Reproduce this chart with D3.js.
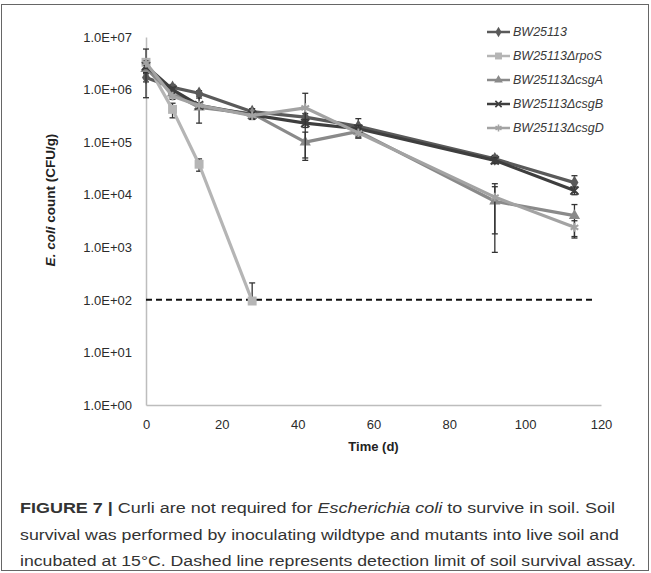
<!DOCTYPE html>
<html>
<head>
<meta charset="utf-8">
<script src="https://cdn.jsdelivr.net/npm/d3@7"></script>
<style>
	body { margin: 0; background: #fff; }
	text { font-family: 'Liberation Sans', Arial, sans-serif; }
</style>
</head>
<body>
<div class="canvas"></div>
<script>
// data
const days = [0, 7, 14, 28, 42, 56, 92, 113];
const seriesNames = ['BW25113', 'BW25113\u0394rpoS', 'BW25113\u0394csgA', 'BW25113\u0394csgB', 'BW25113\u0394csgD'];
const bw25113 = [1.7e6, 1.1e6, 8.5e5, 3.8e5, 3.0e5, 2.0e5, 4.8e4, 1.7e4];
const rpoS = [3.3e6, 4.2e5, 3.8e4, 95];
const csgA = [2.5e6, 8.5e5, 4.6e5, 3.5e5, 1.0e5, 1.6e5, 7.5e3, 4.0e3];
const csgB = [2.8e6, 1.0e6, 5.0e5, 3.3e5, 2.3e5, 1.8e5, 4.5e4, 1.2e4];
const csgD = [3.2e6, 7.5e5, 5.0e5, 3.2e5, 4.5e5, 1.5e5, 9.0e3, 2.4e3];
// standard deviations
const bw25113Sd = [3e5, 1.5e5, 1e5, 5e4, 5e4, 8e4, 8e3, 6e3];
const rpoSSd = [2.6e6, 1.3e5, 1e4, 115];
const csgASd = [4e5, 1e5, 2.3e5, 8e4, 5.5e4, 3e4, 6.7e3, 2.5e3];
const csgBSd = [3e5, 1e5, 5e4, 4e4, 4e4, 3e4, 6e3, 2e3];
const csgDSd = [3e5, 1e5, 5e4, 4e4, 4e5, 3e4, 7.2e3, 8e2];
const yTicks = [1, 10, 100, 1e3, 1e4, 1e5, 1e6, 1e7];
const xTicks = [0, 20, 40, 60, 80, 100, 120];
const detectionLimit = 100;

const colors = ['#5a5a5a', '#b5b5b5', '#8a8a8a', '#3e3e3e', '#a3a3a3'];
const symbols = [d3.symbolDiamond, d3.symbolSquare, d3.symbolTriangle, d3.symbolX, d3.symbolAsterisk];
const symbolSizes = [55, 80, 55, 45, 55];
const strokeSymbols = [false, false, false, true, true];

const series = [bw25113, rpoS, csgA, csgB, csgD].map((vals, i) => ({
	name: seriesNames[i],
	sd: [bw25113Sd, rpoSSd, csgASd, csgBSd, csgDSd][i],
	points: vals.map((v, j) => ({ day: days[j], value: v }))
}));

const svg = d3.select('.canvas')
	.append('svg')
	.attr('width', 651)
	.attr('height', 573);

// frame
svg.append('rect')
	.attr('x', 1.5)
	.attr('y', 4.5)
	.attr('width', 647)
	.attr('height', 566)
	.attr('fill', 'none')
	.attr('stroke', '#666')
	.attr('stroke-width', 1);

// scales
const x = d3.scaleLinear().domain([0, 120]).range([146, 601]);
const y = d3.scaleLog().domain([1, 1e7]).range([405, 37]);

// axes
const yAxis = d3.axisLeft(y)
	.tickValues(yTicks)
	.tickSize(0)
	.tickPadding(14)
	.tickFormat(d => d3.format('.1e')(d).toUpperCase().replace(/E([+-])(\d)$/, 'E$10$2'));
const xAxis = d3.axisBottom(x)
	.tickValues(xTicks)
	.tickSize(0)
	.tickPadding(15);

const yAxisGroup = svg.append('g')
	.attr('transform', `translate(${x(0)},0)`)
	.call(yAxis);
const xAxisGroup = svg.append('g')
	.attr('transform', `translate(0,${y(1)})`)
	.call(xAxis);

[xAxisGroup, yAxisGroup].forEach(g => {
	g.select('.domain').attr('stroke', '#bdbdbd').attr('stroke-width', 1.5);
	g.selectAll('text')
		.attr('fill', '#2b2b2b')
		.attr('font-size', '13px')
		.attr('font-family', "'Liberation Sans', Arial, sans-serif");
});

// axis titles
svg.append('text')
	.attr('x', x(60))
	.attr('y', 451)
	.attr('text-anchor', 'middle')
	.attr('font-size', '13px')
	.attr('font-weight', 'bold')
	.attr('fill', '#222')
	.text('Time (d)');

const yTitle = svg.append('text')
	.attr('transform', 'translate(55,200) rotate(-90)')
	.attr('text-anchor', 'middle')
	.attr('font-size', '13.5px')
	.attr('font-weight', 'bold')
	.attr('fill', '#222');
yTitle.append('tspan').attr('font-style', 'italic').text('E. coli');
yTitle.append('tspan').text(' count (CFU/g)');

// detection limit
svg.append('line')
	.attr('x1', x(0))
	.attr('x2', x(118))
	.attr('y1', y(detectionLimit))
	.attr('y2', y(detectionLimit))
	.attr('stroke', '#111')
	.attr('stroke-width', 2)
	.attr('stroke-dasharray', '6,4');

const line = d3.line()
	.x(d => x(d.day))
	.y(d => y(d.value));

const plot = svg.append('g');

series.forEach((s, i) => {
	const g = plot.append('g');

	// error bars
	s.points.forEach((p, j) => {
		const sd = s.sd[j];
		const hi = p.value + sd;
		const lo = p.value - sd;
		const eb = g.append('g').attr('stroke', '#333').attr('stroke-width', 1.3);
		eb.append('line')
			.attr('x1', x(p.day)).attr('x2', x(p.day))
			.attr('y1', y(hi))
			.attr('y2', lo > 1 ? y(lo) : y(p.value));
		eb.append('line')
			.attr('x1', x(p.day) - 3).attr('x2', x(p.day) + 3)
			.attr('y1', y(hi)).attr('y2', y(hi));
		if (lo > 1) {
			eb.append('line')
				.attr('x1', x(p.day) - 3).attr('x2', x(p.day) + 3)
				.attr('y1', y(lo)).attr('y2', y(lo));
		}
	});

	g.append('path')
		.datum(s.points)
		.attr('d', line)
		.attr('fill', 'none')
		.attr('stroke', colors[i])
		.attr('stroke-width', 3.2)
		.attr('stroke-linejoin', 'round');

	g.selectAll('path.marker')
		.data(s.points)
		.enter()
		.append('path')
		.attr('class', 'marker')
		.attr('transform', d => `translate(${x(d.day)},${y(d.value)})`)
		.attr('d', d3.symbol().type(symbols[i]).size(symbolSizes[i]))
		.attr('fill', strokeSymbols[i] ? 'none' : colors[i])
		.attr('stroke', colors[i])
		.attr('stroke-width', strokeSymbols[i] ? 2 : 0);
});

// legend
const legend = svg.append('g');
seriesNames.forEach((name, i) => {
	const ly = 32 + i * 24;
	legend.append('line')
		.attr('x1', 487).attr('x2', 510)
		.attr('y1', ly).attr('y2', ly)
		.attr('stroke', colors[i])
		.attr('stroke-width', 2.5);
	legend.append('path')
		.attr('transform', `translate(498.5,${ly})`)
		.attr('d', d3.symbol().type(symbols[i]).size(symbolSizes[i] * 0.6))
		.attr('fill', strokeSymbols[i] ? 'none' : colors[i])
		.attr('stroke', colors[i])
		.attr('stroke-width', strokeSymbols[i] ? 1.6 : 0);
	legend.append('text')
		.attr('x', 513)
		.attr('y', ly)
		.attr('dy', '0.35em')
		.attr('font-size', '12.5px')
		.attr('font-style', 'italic')
		.attr('fill', '#3a3a3a')
		.text(name);
});

// caption
const captionLines = [
	[['FIGURE 7 |', 'bold', 'normal'], [' Curli are not required for ', 'normal', 'normal'], ['Escherichia coli', 'normal', 'italic'], [' to survive in soil. Soil', 'normal', 'normal']],
	[['survival was performed by inoculating wildtype and mutants into live soil and', 'normal', 'normal']],
	[['incubated at 15\u00b0C. Dashed line represents detection limit of soil survival assay.', 'normal', 'normal']]
];
const captionWidths = [595, 599, 616];
captionLines.forEach((parts, i) => {
	const t = svg.append('text')
		.attr('x', 20)
		.attr('y', 513 + i * 26.5)
		.attr('font-size', '15.5px')
		.attr('fill', '#333');
	parts.forEach(p => {
		t.append('tspan')
			.attr('font-weight', p[1])
			.attr('font-style', p[2])
			.text(p[0]);
	});
	const w = t.node().getComputedTextLength();
	if (Math.abs(w - captionWidths[i]) > 2) {
		t.attr('textLength', captionWidths[i]).attr('lengthAdjust', 'spacingAndGlyphs');
	}
});
</script>
</body>
</html>
